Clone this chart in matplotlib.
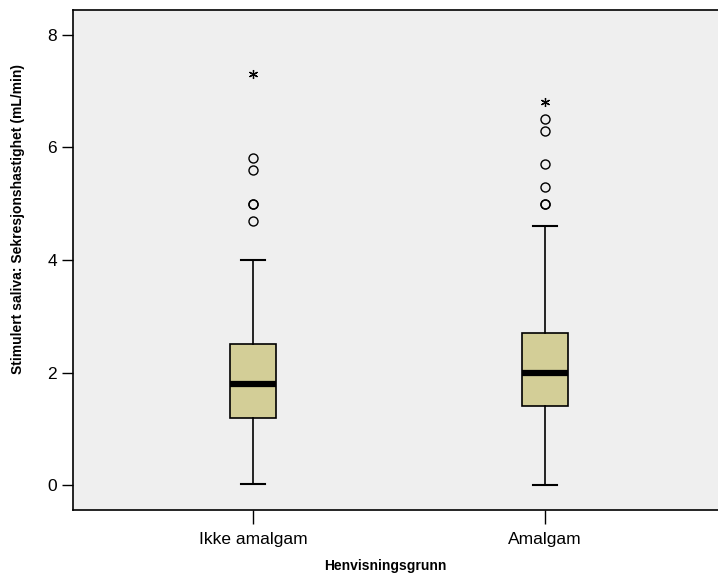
import matplotlib
matplotlib.use('Agg')
import matplotlib.pyplot as plt

plt.rcParams['font.family'] = ['Liberation Sans', 'DejaVu Sans']

# boxplot summary values
groups = ['Ikke amalgam', 'Amalgam']
whisker_low = [0.02, 0.0]
q1 = [1.2, 1.4]
median = [1.8, 2.0]
q3 = [2.5, 2.7]
whisker_high = [4.0, 4.6]
# circles = outliers, stars = extreme values
outliers = [[4.7, 5.0, 5.0, 5.6, 5.82],
            [5.0, 5.0, 5.3, 5.7, 6.3, 6.5]]
extremes = [[7.3], [6.8]]

box_color = '#D3CE97'
bg_color = '#EFEFEF'

fig = plt.figure(figsize=(7.18, 5.77), dpi=100)
ax = fig.add_axes([73 / 718, 67 / 577, (725 - 73) / 718, 500 / 577])
ax.set_facecolor(bg_color)

stats = []
for i, name in enumerate(groups):
    stats.append({'label': name, 'whislo': whisker_low[i], 'q1': q1[i],
                  'med': median[i], 'q3': q3[i], 'whishi': whisker_high[i],
                  'fliers': outliers[i]})

positions = list(range(1, len(groups) + 1))
ax.bxp(stats, positions=positions, widths=0.158, patch_artist=True,
       boxprops=dict(facecolor=box_color, edgecolor='black', linewidth=1.2),
       medianprops=dict(color='black', linewidth=4.5, solid_capstyle='butt'),
       whiskerprops=dict(color='black', linewidth=1.2),
       capprops=dict(color='black', linewidth=1.5),
       flierprops=dict(marker='o', markerfacecolor='none', markeredgecolor='black',
                       markersize=6.5, markeredgewidth=1.0))

# extreme values drawn as asterisks
for pos, vals in zip(positions, extremes):
    ax.plot([pos] * len(vals), vals, linestyle='none', marker=(6, 2, 0),
            markersize=6.5, markeredgewidth=0.9, color='black')

ax.set_xlim(1 - 180 / 292, 2 + 180 / 292)
ax.set_ylim(-0.444, 8.444)
ax.set_yticks([0, 2, 4, 6, 8])
ax.set_xticks(positions)
ax.set_xticklabels(groups)
ax.tick_params(axis='both', labelsize=12.5, length=8, width=1, color='black')
ax.tick_params(axis='x', length=10, pad=6)

for side in ['left', 'bottom', 'top']:
    ax.spines[side].set_linewidth(1.2)
ax.spines['right'].set_visible(False)

fig.text(385 / 718, 1 - 566 / 577, 'Henvisningsgrunn', ha='center', va='center',
         fontsize=10, fontweight='bold')
fig.text(18 / 718, 1 - 219 / 577, 'Stimulert saliva: Sekresjonshastighet (mL/min)',
         ha='center', va='center', rotation=90, fontsize=10, fontweight='bold')

fig.savefig('out.png', dpi=100)
